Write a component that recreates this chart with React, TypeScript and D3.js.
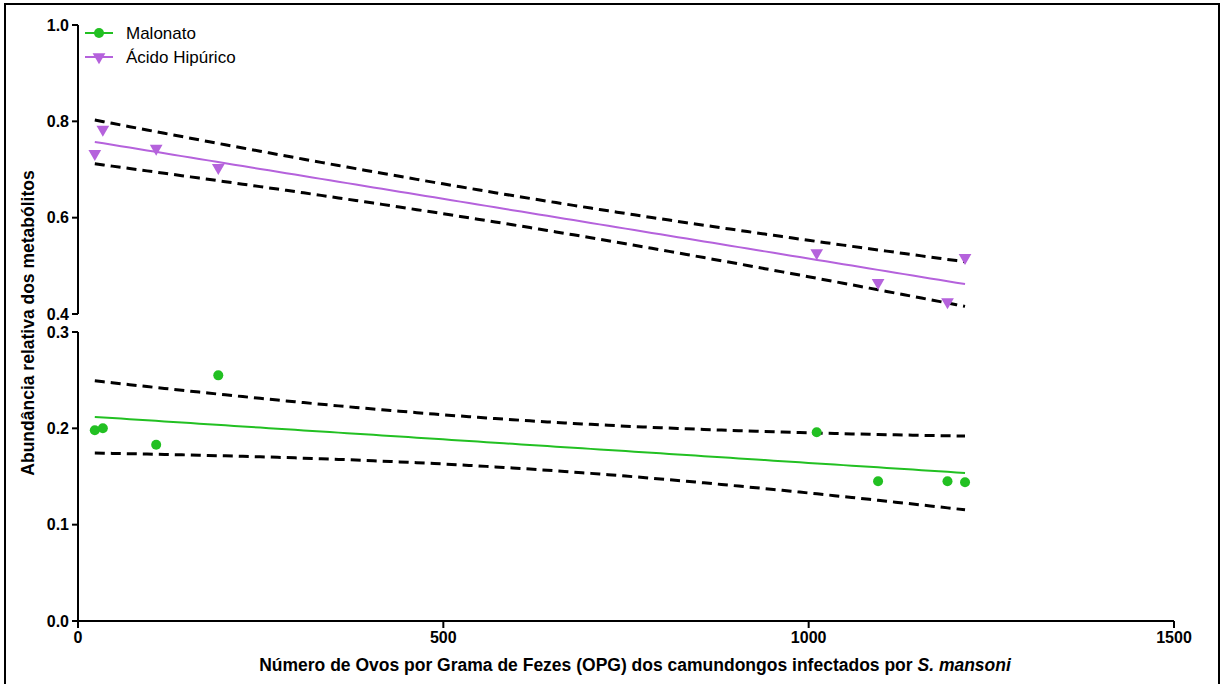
import React from 'react';
import * as d3 from 'd3';

// OPG values (x) shared by both metabolites
const opg = [23, 34, 107, 192, 1011, 1095, 1190, 1214];
const malonato = [0.198, 0.2, 0.183, 0.255, 0.196, 0.145, 0.145, 0.144];
const hipurico = [0.733, 0.783, 0.744, 0.704, 0.527, 0.465, 0.425, 0.517];

const xTicks = [0, 500, 1000, 1500];
const yTicksTop = [0.4, 0.6, 0.8, 1.0];
const yTicksBottom = [0.0, 0.1, 0.2, 0.3];

const GREEN = '#22c022';
const PURPLE = '#b562dc';
const T_975_DF6 = 2.447;

const W = 1221;
const H = 684;
const font = 'Liberation Sans, Arial, Helvetica, sans-serif';

// linear fit + 95% confidence band
function fit(xs: number[], ys: number[]) {
  const n = xs.length;
  const mx = d3.mean(xs)!;
  const my = d3.mean(ys)!;
  const sxx = d3.sum(xs, (x) => (x - mx) ** 2);
  const sxy = d3.sum(xs, (x, i) => (x - mx) * (ys[i] - my));
  const b = sxy / sxx;
  const a = my - b * mx;
  const sse = d3.sum(xs, (x, i) => (ys[i] - (a + b * x)) ** 2);
  const s = Math.sqrt(sse / (n - 2));
  const [x0, x1] = d3.extent(xs) as [number, number];
  const pts = d3.range(0, 101).map((k) => {
    const x = x0 + ((x1 - x0) * k) / 100;
    const yh = a + b * x;
    const hw = T_975_DF6 * s * Math.sqrt(1 / n + (x - mx) ** 2 / sxx);
    return { x, y: yh, lo: yh - hw, hi: yh + hw };
  });
  return pts;
}

export default function App() {
  const x = d3.scaleLinear().domain([0, 1500]).range([78, 1174]);
  const yTop = d3.scaleLinear().domain([0.4, 1.0]).range([314, 25]);
  const yBot = d3.scaleLinear().domain([0, 0.3]).range([621, 332]);

  const fitM = fit(opg, malonato);
  const fitH = fit(opg, hipurico);

  const line = (ys: d3.ScaleLinear<number, number>, key: 'y' | 'lo' | 'hi') =>
    d3
      .line<{ x: number; y: number; lo: number; hi: number }>()
      .x((d) => x(d.x))
      .y((d) => ys(d[key]));

  const tri = d3.symbol().type(d3.symbolTriangle).size(70)();

  const axisX = 78;
  const tickFont = 16;

  return (
    <svg
      width={W}
      height={H}
      style={{ position: 'absolute', left: 0, top: 0, background: '#fff' }}
      fontFamily={font}
    >
      {/* frame */}
      <path d={`M5,${H} V4 H1219 V${H}`} fill="none" stroke="#000" strokeWidth={2} />

      {/* y axis, top segment */}
      <line x1={axisX} x2={axisX} y1={yTop(1.0)} y2={yTop(0.4)} stroke="#000" strokeWidth={2} />
      {yTicksTop.map((t) => (
        <g key={'t' + t}>
          <line x1={axisX - 6} x2={axisX} y1={yTop(t)} y2={yTop(t)} stroke="#000" strokeWidth={2} />
          <text x={axisX - 9} y={yTop(t)} dy="0.35em" textAnchor="end" fontSize={tickFont} fontWeight="bold">
            {t.toFixed(1)}
          </text>
        </g>
      ))}
      {/* y axis, bottom segment */}
      <line x1={axisX} x2={axisX} y1={yBot(0.3)} y2={yBot(0)} stroke="#000" strokeWidth={2} />
      {yTicksBottom.map((t) => (
        <g key={'b' + t}>
          <line x1={axisX - 6} x2={axisX} y1={yBot(t)} y2={yBot(t)} stroke="#000" strokeWidth={2} />
          <text x={axisX - 9} y={yBot(t)} dy="0.35em" textAnchor="end" fontSize={tickFont} fontWeight="bold">
            {t.toFixed(1)}
          </text>
        </g>
      ))}

      {/* x axis */}
      <line x1={x(0)} x2={x(1500)} y1={yBot(0)} y2={yBot(0)} stroke="#000" strokeWidth={2} />
      {xTicks.map((t) => (
        <g key={'x' + t}>
          <line x1={x(t)} x2={x(t)} y1={yBot(0)} y2={yBot(0) + 7} stroke="#000" strokeWidth={2} />
          <text x={x(t)} y={yBot(0) + 16} dy="0.35em" textAnchor="middle" fontSize={tickFont} fontWeight="bold">
            {t}
          </text>
        </g>
      ))}

      {/* axis titles */}
      <text x={635} y={671} textAnchor="middle" fontSize={17.5} fontWeight="bold">
        Número de Ovos por Grama de Fezes (OPG) dos camundongos infectados por{' '}
        <tspan fontStyle="italic">S. mansoni</tspan>
      </text>
      <text
        transform="translate(34,323) rotate(-90)"
        textAnchor="middle"
        fontSize={17.5}
        fontWeight="bold"
      >
        Abundância relativa dos metabólitos
      </text>

      {/* confidence bands */}
      {(['lo', 'hi'] as const).map((k) => (
        <g key={k}>
          <path d={line(yTop, k)(fitH)!} fill="none" stroke="#000" strokeWidth={3} strokeDasharray="10,6" />
          <path d={line(yBot, k)(fitM)!} fill="none" stroke="#000" strokeWidth={3} strokeDasharray="10,6" />
        </g>
      ))}

      {/* regression lines */}
      <path d={line(yTop, 'y')(fitH)!} fill="none" stroke={PURPLE} strokeWidth={2} />
      <path d={line(yBot, 'y')(fitM)!} fill="none" stroke={GREEN} strokeWidth={2} />

      {/* points */}
      {opg.map((v, i) => (
        <path key={'h' + i} d={tri!} fill={PURPLE} transform={`translate(${x(v)},${yTop(hipurico[i])}) rotate(180)`} />
      ))}
      {opg.map((v, i) => (
        <circle key={'m' + i} cx={x(v)} cy={yBot(malonato[i])} r={5} fill={GREEN} />
      ))}

      {/* legend */}
      <line x1={85} x2={113} y1={33} y2={33} stroke={GREEN} strokeWidth={2} />
      <circle cx={99} cy={33} r={5} fill={GREEN} />
      <text x={126} y={33} dy="0.35em" fontSize={17}>
        Malonato
      </text>
      <line x1={85} x2={113} y1={57} y2={57} stroke={PURPLE} strokeWidth={2} />
      <path d={tri!} fill={PURPLE} transform={`translate(99,57) rotate(180)`} />
      <text x={126} y={57} dy="0.35em" fontSize={17}>
        Ácido Hipúrico
      </text>
    </svg>
  );
}
